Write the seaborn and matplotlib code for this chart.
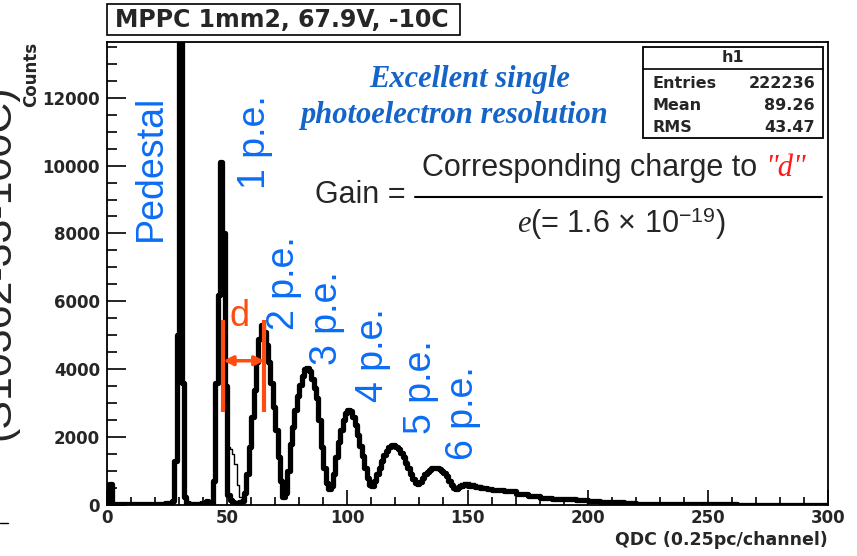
import matplotlib
matplotlib.use('Agg')
import numpy as np
import pandas as pd
import matplotlib.pyplot as plt
from matplotlib.ticker import MultipleLocator
from matplotlib.patches import Rectangle
from matplotlib.lines import Line2D
import seaborn as sns

# QDC spectrum, counts per channel (channel i covers [i, i+1))
counts_baseline = [40, 620, 35, 30, 30, 28, 30, 32, 30, 30, 28, 30, 30, 32, 30, 30,
                   30, 32, 30, 30, 35, 35, 38, 40, 45, 50, 70, 110]          # 0-27
counts_pedestal = [1300, 5000, 16000, 3600, 250, 60]                          # 28-33
counts_gap = [40, 40, 35, 40, 40, 45, 50, 110, 90, 60]                        # 34-43
counts_1pe = [700, 3600, 6200, 10100, 8000, 3500, 300, 150, 100, 70, 60, 80]  # 44-55
counts_2pe = [120, 350, 900, 1700, 2600, 3400, 4200, 4900, 5300, 5100, 4700,
              4200, 3600, 2900, 2200, 1400, 700, 250]                         # 56-73
counts_3pe = [350, 1000, 1800, 2300, 2800, 3200, 3550, 3800, 4000, 4050, 3950,
              3700, 3450, 3150, 2500, 1700, 1100, 650, 480]                   # 74-92
counts_4pe = [550, 900, 1400, 1850, 2200, 2500, 2700, 2800, 2780, 2600, 2350,
              2050, 1750, 1450, 1100, 800, 600, 560]                          # 93-110
counts_5pe = [700, 900, 1100, 1300, 1480, 1600, 1720, 1780, 1780, 1720, 1640,
              1540, 1400, 1250, 1080, 900, 760, 650, 620]                     # 111-129
counts_6pe = [680, 800, 900, 980, 1040, 1080, 1090, 1080, 1050, 1000, 950,
              850, 720, 600, 500]                                             # 130-144
counts_after = [480, 520, 560, 580, 580, 570, 560, 550, 540, 530, 515, 500,
                490, 475, 460]                                                # 145-159
tail_edges = [160, 165, 170, 175, 180, 185, 190, 195, 200, 205, 210, 215, 220,
              230, 240, 250, 262, 280, 300]
tail_counts = [440, 400, 330, 260, 220, 190, 165, 140, 120, 95, 75, 55, 40,
               30, 25, 20, 5, 3]

# second (thin) histogram where it differs from the thick one
thin_start_a = 49
thin_counts_a = [3500, 1700, 1650, 1500, 1200, 600, 250, 120, 350]
thin_start_b = 71
thin_counts_b = [1400, 800, 450, 420, 1000]
thin_start_c = 144
thin_counts_c = [500, 560, 620, 660, 680, 680, 670, 660, 640, 620, 600, 580,
                 560, 540, 520, 500]

pe_labels = ['Pedestal', '1 p.e.', '2 p.e.', '3 p.e.', '4 p.e.', '5 p.e.', '6 p.e.']
pe_label_x = [18.3, 61.6, 73.7, 91.6, 110.7, 130.7, 148.1]
pe_label_y = [9940, 10680, 6550, 5520, 4420, 3480, 2710]

d_left, d_right = 48.4, 65.5
d_low, d_high = 2750, 5460
d_arrow_y = 4250
d_text_x, d_text_y = 55.3, 5550

stats_names = ['Entries', 'Mean', 'RMS']
stats_values = ['222236', '89.26', '43.47']

sns.set_style('ticks')
plt.rcParams['font.family'] = ['DejaVu Sans']
plt.rcParams['mathtext.fontset'] = 'custom'
plt.rcParams['mathtext.it'] = 'Liberation Serif:italic'
plt.rcParams['mathtext.rm'] = 'Liberation Sans'

W, H = 857, 556
def fx(px):
    return px / W
def fy(py):
    return 1 - py / H

BLUE = '#0b6cf5'
ORANGE = '#ff4d12'

main_counts = (counts_baseline + counts_pedestal + counts_gap + counts_1pe + counts_2pe
               + counts_3pe + counts_4pe + counts_5pe + counts_6pe + counts_after)
edges = list(range(0, len(main_counts) + 1)) + tail_edges[1:]
weights = main_counts + tail_counts
centers = [(a + b) / 2 for a, b in zip(edges[:-1], edges[1:])]
df = pd.DataFrame({'qdc': centers, 'counts': weights})

fig = plt.figure(figsize=(8.57, 5.56), dpi=100)
ax = fig.add_axes([fx(107), fy(505), (828 - 107) / W, (505 - 41.7) / H])

sns.histplot(data=df, x='qdc', weights='counts', bins=edges, element='step',
             fill=False, color='black', linewidth=3.8, ax=ax)

for start, vals in [(thin_start_a, thin_counts_a), (thin_start_b, thin_counts_b),
                    (thin_start_c, thin_counts_c)]:
    e = list(range(start, start + len(vals) + 1))
    c = [x + 0.5 for x in e[:-1]]
    sns.histplot(x=c, weights=vals, bins=e, element='step', fill=False,
                 color='black', linewidth=1.0, ax=ax, zorder=3)

ax.set_xlim(0, 300)
ax.set_ylim(0, 13650)
ax.xaxis.set_major_locator(MultipleLocator(50))
ax.xaxis.set_minor_locator(MultipleLocator(10))
ax.yaxis.set_major_locator(MultipleLocator(2000))
ax.yaxis.set_minor_locator(MultipleLocator(500))
ax.tick_params(which='both', direction='in', top=False, right=False, width=1.2, color='black')
ax.tick_params(axis='x', which='major', length=11, pad=3)
ax.tick_params(axis='x', which='minor', length=5.5)
ax.tick_params(axis='y', which='major', length=14, pad=5)
ax.tick_params(axis='y', which='minor', length=7)
for lab in ax.get_xticklabels() + ax.get_yticklabels():
    lab.set_fontweight('bold')
    lab.set_fontsize(12)
for sp in ax.spines.values():
    sp.set_visible(True)
    sp.set_color('black')
    sp.set_linewidth(1.3)

ax.set_xlabel('QDC (0.25pc/channel)', loc='right', fontweight='bold', fontsize=12.5, labelpad=3)
ax.set_ylabel('Counts', loc='top', fontweight='bold', fontsize=12, labelpad=2)

# peak labels
for lab, x, y in zip(pe_labels, pe_label_x, pe_label_y):
    ax.text(x, y, lab, rotation=90, ha='center', va='center', color=BLUE,
            fontsize=27, family='Liberation Sans')

# distance between 1 and 2 p.e.
ax.vlines([d_left, d_right], d_low, d_high, color=ORANGE, lw=3, zorder=4)
ax.annotate('', xy=(d_right, d_arrow_y), xytext=(d_left, d_arrow_y),
            arrowprops=dict(arrowstyle='<|-|>', color=ORANGE, lw=2.5,
                            mutation_scale=14, shrinkA=0, shrinkB=0), zorder=4)
ax.text(d_text_x, d_text_y, 'd', color=ORANGE, fontsize=26, ha='center', va='center',
        family='Liberation Sans')

# title box
fig.add_artist(Rectangle((fx(107), fy(35)), 353 / W, 31 / H, transform=fig.transFigure,
                         facecolor='white', edgecolor='black', lw=1.2))
fig.text(fx(115), fy(20), 'MPPC 1mm2, 67.9V, -10C', ha='left', va='center',
         fontsize=17, fontweight='bold')

# stats box
fig.add_artist(Rectangle((fx(643), fy(138)), 180 / W, 91 / H, transform=fig.transFigure,
                         facecolor='white', edgecolor='black', lw=1.3, zorder=5))
fig.add_artist(Line2D([fx(643), fx(823)], [fy(69), fy(69)], color='black', lw=1.2, zorder=6))
fig.text(fx(733), fy(58), 'h1', ha='center', va='center', fontsize=11.5,
         fontweight='bold', zorder=7)
for i, (n, v) in enumerate(zip(stats_names, stats_values)):
    yy = fy(83 + 22.5 * i)
    fig.text(fx(652), yy, n, ha='left', va='center', fontsize=11.5, fontweight='bold', zorder=7)
    fig.text(fx(815), yy, v, ha='right', va='center', fontsize=11.5, fontweight='bold', zorder=7)

# comment text
fig.text(fx(470), fy(80), 'Excellent single', ha='center', va='center', color='#1565c8',
         family='Liberation Serif', style='italic', fontweight='bold', fontsize=22)
fig.text(fx(454), fy(116), 'photoelectron resolution', ha='center', va='center',
         color='#1565c8', family='Liberation Serif', style='italic', fontweight='bold',
         fontsize=22)

# gain formula
fig.text(fx(406), fy(195), 'Gain =', ha='right', va='center', fontsize=22,
         family='Liberation Sans')
num = fig.text(fx(422), fy(168), 'Corresponding charge to', ha='left', va='center',
               fontsize=22, family='Liberation Sans')
fig.add_artist(Line2D([fx(415), fx(822)], [fy(197), fy(197)], color='black', lw=1.5))
ax.annotate('"d"', xy=(1, 0), xycoords=num, xytext=(6, 0), textcoords='offset points',
            ha='left', va='bottom', color='#ff1a1a', fontsize=22,
            family='Liberation Serif', style='italic')
fig.text(fx(621), fy(224), r'$e$(= 1.6 × 10$^{-19}$)', ha='center', va='center',
         fontsize=22, family='Liberation Sans')

# cropped label at the left edge
fig.text(fx(9), fy(262), '(S10362-33-100C)', rotation=90, rotation_mode='anchor',
         ha='center', va='baseline', fontsize=31, family='Liberation Sans')
fig.add_artist(Line2D([0, fx(8)], [fy(523), fy(523)], color='black', lw=1))

fig.savefig('out.png', dpi=100)
